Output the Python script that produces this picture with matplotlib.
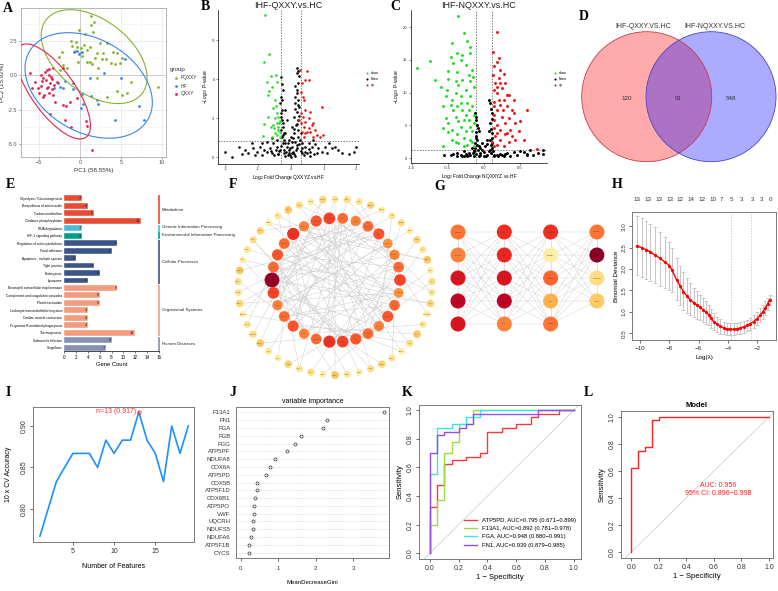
import numpy as np
import matplotlib
matplotlib.use("Agg")
import matplotlib.pyplot as plt
from matplotlib.patches import Circle, Ellipse
from matplotlib.lines import Line2D
import matplotlib.transforms as mtransforms

plt.rcParams['font.family'] = ['Liberation Sans', 'DejaVu Sans']
plt.rcParams['mathtext.fontset'] = 'custom'
plt.rcParams['mathtext.rm'] = 'Liberation Sans'
plt.rcParams['mathtext.it'] = 'Liberation Sans:italic'

# ---------------- data ----------------
# A: PCA scores
pca_fqxxy = [(1.30, 4.32), (1.67, 3.89), (1.30, 3.65), (-0.08, 3.33), (0.61, 3.04), (1.54, 3.12),
             (-1.14, 2.51), (-0.49, 2.46), (-0.98, 2.15), (-0.41, 2.08), (0.49, 2.20), (1.22, 2.08),
             (2.44, 2.32), (3.25, 2.37), (4.07, 1.67), (4.47, 1.59), (5.08, 1.23), (2.03, 1.59),
             (1.83, 1.23), (2.64, 1.16), (1.22, 0.99), (1.42, 0.82), (0.81, 0.99), (0.20, 1.40),
             (0.0, 1.59), (-2.24, 1.71), (-2.52, 1.30), (-2.03, 0.75), (-1.63, 0.51), (-2.44, 0.39),
             (2.24, 0.51), (2.11, -0.22), (3.25, -1.55), (4.47, -1.18), (5.08, -1.43), (5.69, -1.30),
             (6.22, -0.46), (9.47, -0.82), (4.27, 0.82), (4.88, 0.87), (3.78, 0.87), (3.17, 1.16),
             (0.16, 2.0), (-0.61, 1.74), (0.89, 1.84), (2.76, 1.59), (-0.28, 0.99)]
pca_hf = [(-0.73, 1.71), (-0.33, 1.76), (-0.16, 1.55), (0.20, 1.71), (5.49, 1.18), (2.97, 0.14),
          (5.04, -0.19), (-2.72, -0.58), (-2.44, -0.87), (-3.17, -0.94), (-1.79, -0.41), (-0.81, -0.58),
          (-0.81, -1.01), (0.20, -1.38), (1.30, -1.50), (2.03, -1.79), (2.20, -2.10), (0.33, -2.08),
          (0.16, -2.39), (7.24, -2.27), (7.85, -3.24), (4.23, -3.29), (1.22, -0.22), (-2.03, -0.94)]
pca_qxxy = [(-6.10, 0.19), (-4.07, 0.39), (-3.74, 0.43), (-3.25, 0.51), (-4.27, 0.22), (-4.76, 0.02),
            (-3.78, 0.02), (-3.37, -0.29), (-4.19, -0.34), (-4.67, -0.39), (-3.66, -0.58), (-3.17, -0.70),
            (-4.07, -0.94), (-3.46, -1.01), (-3.78, -1.30), (-3.25, -1.43), (-4.35, -1.47), (-3.94, -0.87),
            (-5.08, -0.89), (-5.81, -0.94), (-4.96, -1.30), (-4.47, -1.55), (-3.05, -1.91), (-2.03, -2.15),
            (-1.75, -2.27), (-1.22, -1.91), (-0.33, -1.62), (-3.66, -2.83), (-1.83, -3.29), (-1.14, -3.74),
            (0.73, -3.31), (0.89, -3.67), (1.42, -5.46), (-2.11, 0.51), (-2.85, -0.46), (-5.49, -0.46),
            (-4.80, -0.77), (-3.58, -0.14), (-4.55, -0.22)]
pca_groups = ["FQXXY", "HF", "QXXY"]
pca_colors = ["#86B22C", "#3A86E6", "#E8214E"]

# B: volcano IHF-QXXY
b_down = [(-0.80, 10.9), (-0.66, 7.92), (-0.83, 7.28), (-0.46, 6.33), (-0.60, 6.26), (-0.73, 5.82),
          (-0.43, 5.82), (-0.56, 5.38), (-0.66, 5.13), (-0.70, 4.79), (-0.48, 4.41), (-0.45, 3.95),
          (-0.53, 3.77), (-0.43, 3.38), (-0.48, 3.0), (-0.38, 3.13), (-0.32, 2.82), (-0.43, 2.62),
          (-0.53, 2.49), (-0.38, 2.36), (-0.60, 2.36), (-0.40, 2.10), (-0.32, 1.97), (-0.48, 1.90),
          (-0.56, 1.59), (-0.84, 1.64), (-0.32, 1.59), (-0.36, 2.62), (-0.83, 2.56), (-0.68, 3.08),
          (-0.50, 2.23), (-0.42, 1.72)]
b_up = [(0.28, 6.72), (0.44, 5.95), (0.54, 5.90), (0.49, 6.59), (0.34, 5.69), (0.31, 5.05), (0.36, 4.67),
        (0.39, 4.41), (0.44, 3.64), (0.59, 3.51), (0.31, 3.38), (0.36, 3.13), (0.54, 3.0), (0.69, 2.62),
        (0.44, 2.74), (0.31, 2.62), (0.39, 2.36), (0.54, 2.23), (0.74, 2.10), (0.59, 1.97), (0.44, 1.85),
        (0.79, 1.72), (0.99, 1.72), (0.89, 1.54), (0.69, 1.59), (0.34, 1.97), (0.94, 3.90), (0.39, 1.59),
        (0.49, 1.97), (0.64, 2.49), (0.25, 2.87)]
b_none = [(0.18, 6.85), (0.23, 6.59), (0.25, 6.21), (0.21, 5.69), (0.13, 5.44), (0.18, 4.92), (0.23, 4.41),
          (0.13, 4.15), (0.25, 3.90), (0.18, 3.51), (0.11, 3.13), (0.23, 2.87), (0.15, 2.49), (0.21, 2.10),
          (0.11, 1.85), (0.07, 1.46), (0.13, 1.21), (0.19, 0.95), (0.03, 0.82), (0.08, 0.44), (-0.02, 0.18),
          (-0.07, 0.56), (-0.12, 0.82), (-0.17, 1.08), (-0.22, 1.33), (-0.25, 1.72), (-0.29, 2.10),
          (-0.25, 2.62), (-0.31, 3.13), (-0.27, 3.64), (-0.32, 4.15), (-0.29, 4.67), (-0.25, 5.18),
          (-0.29, 6.15), (-0.22, 0.31), (-0.32, 0.56), (-0.43, 0.82), (-0.53, 1.08), (-0.63, 0.69),
          (-0.73, 0.44), (-0.83, 0.56), (-0.93, 0.82), (-1.04, 0.44), (-1.14, 0.69), (-1.29, 0.31),
          (-1.49, 0.26), (-1.59, 0.82), (-2.0, 0.44), (-1.80, 0.05), (-1.39, 0.56), (-1.19, 1.08),
          (-1.09, 0.18), (-0.88, 0.18), (-0.58, 0.31), (-0.38, 0.26), (-0.17, 0.10), (0.13, 0.10),
          (0.34, 0.31), (0.44, 0.44), (0.54, 0.62), (0.64, 0.82), (0.74, 1.03), (0.84, 0.69), (0.94, 0.44),
          (1.05, 0.82), (1.15, 1.08), (1.25, 0.69), (1.35, 0.82), (1.45, 0.56), (1.55, 0.31), (1.76, 0.26),
          (1.94, 0.44), (1.98, 0.82), (1.10, 0.31), (0.79, 0.31), (0.59, 0.10), (0.44, 0.82), (0.34, 1.08),
          (0.54, 1.13), (0.69, 1.33), (-0.43, 1.33), (-0.58, 1.46), (-0.73, 1.21), (-0.88, 1.08),
          (-0.17, 1.85), (-0.07, 1.33), (0.03, 2.36), (0.28, 1.33), (0.31, 1.85), (-0.12, 2.87),
          (-0.19, 3.64), (0.13, 4.67), (0.18, 6.46), (0.0, 0.05), (-0.05, 0.36), (0.05, 0.31),
          (-0.35, 0.5), (-0.3, 0.9), (-0.25, 1.1), (-0.2, 0.6), (-0.15, 0.4), (-0.1, 0.2), (0.1, 0.25),
          (0.15, 0.55), (0.2, 0.7), (0.25, 1.0), (0.3, 0.5), (0.35, 0.75), (-0.4, 0.3), (-0.45, 0.6),
          (0.4, 0.2), (0.5, 0.35), (-0.5, 0.2), (-0.6, 0.5), (0.6, 0.45), (0.7, 0.3), (-0.27, 1.6),
          (-0.24, 2.3), (-0.28, 2.9), (-0.3, 3.4), (-0.26, 4.4), (-0.27, 5.6), (0.2, 5.2), (0.22, 4.0),
          (0.24, 3.2), (0.2, 2.6), (0.22, 1.6), (-0.2, 1.9), (0.12, 3.7), (0.1, 2.2), (-0.1, 1.1),
          (0.05, 1.2), (-0.02, 0.7), (0.0, 1.6)]

# C: volcano IHF-NQXXY
c_down = [(-0.35, 21.7), (-0.27, 19.1), (-0.44, 17.5), (-0.23, 17.8), (-0.19, 17.0), (-0.75, 14.8),
          (-0.93, 13.7), (-0.67, 11.9), (-0.50, 13.3), (-0.37, 16.0), (-0.30, 15.7), (-0.19, 16.0),
          (-0.42, 14.5), (-0.32, 15.0), (-0.25, 14.2), (-0.16, 13.5), (-0.21, 12.7), (-0.30, 11.9),
          (-0.49, 12.0), (-0.39, 11.7), (-0.35, 11.2), (-0.19, 11.7), (-0.14, 10.9), (-0.25, 10.4),
          (-0.39, 9.9), (-0.53, 9.4), (-0.44, 8.9), (-0.32, 9.4), (-0.19, 9.4), (-0.23, 8.4), (-0.37, 7.9),
          (-0.46, 8.1), (-0.30, 7.4), (-0.16, 7.9), (-0.25, 6.6), (-0.39, 6.3), (-0.53, 6.1), (-0.49, 5.3),
          (-0.35, 5.6), (-0.21, 5.8), (-0.14, 5.3), (-0.32, 4.8), (-0.44, 4.3), (-0.56, 4.6), (-0.25, 4.1),
          (-0.16, 4.1), (-0.37, 3.6), (-0.28, 3.0), (-0.19, 2.8), (-0.44, 2.8), (-0.35, 2.3), (-0.23, 2.0),
          (-0.56, 1.9), (-0.14, 1.8), (-0.49, 3.9), (-0.60, 10.9), (-0.51, 10.4), (-0.15, 12.4),
          (-0.56, 7.9), (-0.14, 6.6), (-0.19, 4.8), (-0.28, 5.8), (-0.42, 7.4), (-0.37, 13.2),
          (-0.46, 15.5), (-0.31, 8.4), (-0.21, 7.4), (-0.39, 2.5), (-0.27, 1.8), (-0.16, 2.5)]
c_up = [(0.19, 19.2), (0.13, 16.2), (0.21, 15.2), (0.18, 14.7), (0.15, 14.0), (0.23, 13.5), (0.28, 12.9),
        (0.13, 12.7), (0.21, 12.2), (0.16, 11.4), (0.30, 11.4), (0.25, 10.7), (0.14, 10.4), (0.19, 9.9),
        (0.35, 9.6), (0.42, 8.9), (0.28, 8.9), (0.15, 8.6), (0.23, 8.1), (0.32, 7.9), (0.19, 7.4),
        (0.39, 7.4), (0.14, 6.6), (0.25, 6.3), (0.35, 6.1), (0.44, 5.4), (0.30, 5.3), (0.19, 5.1),
        (0.14, 4.6), (0.23, 4.3), (0.37, 4.3), (0.49, 4.1), (0.30, 3.6), (0.16, 3.3), (0.23, 2.8),
        (0.35, 2.5), (0.44, 2.8), (0.19, 2.0), (0.28, 1.8), (0.14, 1.8), (0.60, 7.4), (0.56, 2.8),
        (0.51, 5.6), (0.42, 6.9), (0.74, 1.4), (0.21, 8.9), (0.32, 9.6), (0.15, 5.8), (0.27, 7.4),
        (0.32, 3.8), (0.39, 3.3), (0.12, 2.5), (0.18, 10.8), (0.22, 11.5), (0.15, 7.9), (0.19, 3.8)]
c_none = [(0.0, 0.25), (-0.46, 0.5), (-0.37, 0.76), (-0.28, 1.0), (-0.21, 0.76), (-0.16, 1.5), (-0.12, 2.3),
          (-0.10, 3.3), (-0.08, 4.6), (-0.10, 5.8), (-0.12, 6.9), (-0.08, 1.3), (-0.05, 0.76), (0.05, 0.5),
          (0.09, 1.3), (0.12, 2.3), (0.11, 3.8), (0.09, 5.3), (0.12, 6.9), (0.09, 8.4), (0.08, 8.9),
          (-0.07, 0.36), (-0.14, 0.25), (-0.23, 0.25), (-0.32, 0.5), (-0.42, 0.66), (0.14, 0.36),
          (0.23, 0.66), (0.32, 0.76), (0.42, 0.86), (0.51, 1.0), (0.60, 0.66), (0.69, 0.5), (0.83, 1.2),
          (0.83, 0.66), (0.65, 1.3), (0.46, 0.5), (0.28, 0.25), (0.19, 0.5), (-0.02, 1.3), (0.02, 1.8),
          (0.07, 1.0), (-0.07, 1.8), (-0.14, 1.0), (-0.19, 0.5), (-0.28, 0.25), (0.05, 2.8), (-0.02, 2.3),
          (-0.09, 2.8), (0.09, 2.8), (0.07, 4.1), (-0.07, 4.1), (-0.13, 1.0), (0.13, 1.0), (-0.37, 0.36),
          (0.37, 0.36), (0.56, 0.86), (-0.05, 0.4), (0.03, 0.3), (-0.1, 0.6), (0.1, 0.7), (-0.12, 1.5),
          (0.12, 1.6), (-0.09, 2.0), (0.1, 2.0), (-0.11, 3.0), (0.11, 3.1), (-0.1, 4.0), (0.1, 4.5),
          (-0.09, 5.0), (0.11, 6.0), (-0.11, 6.2), (0.1, 7.5), (-0.2, 0.4), (0.2, 0.3), (-0.3, 0.3),
          (0.3, 0.6), (-0.05, 1.6), (0.05, 2.1), (0.0, 0.9), (-0.15, 0.7), (0.15, 0.4), (-0.25, 0.6),
          (0.25, 0.4), (-0.55, 0.4), (0.6, 0.4), (0.75, 0.7)]

# D: Venn counts
venn_sets = ["IHF-QXXY.VS.HC", "IHF-NQXXY.VS.HC"]
venn_counts = [120, 91, 548]

# E: KEGG enrichment
kegg_terms = ["Glycolysis / Gluconeogenesis", "Biosynthesis of amino acids", "Carbon metabolism",
              "Oxidative phosphorylation", "RNA degradation", "HIF-1 signaling pathway",
              "Regulation of actin cytoskeleton", "Focal adhesion", "Apoptosis - multiple species",
              "Tight junction", "Endocytosis", "Lysosome", "Neutrophil extracellular trap formation",
              "Complement and coagulation cascades", "Platelet activation",
              "Leukocyte transendothelial migration", "Cardiac muscle contraction",
              "Fc gamma R-mediated phagocytosis", "Thermogenesis", "Salmonella infection", "Shigellosis"]
kegg_counts = [3, 4, 5, 13, 3, 3, 9, 8, 2, 5, 6, 4, 9, 6, 6, 4, 4, 4, 12, 8, 7]
kegg_class = ["Metabolism"] * 4 + ["Genetic Information Processing", "Environmental Information Processing"] + \
             ["Cellular Processes"] * 6 + ["Organismal Systems"] * 7 + ["Human Diseases"] * 2
class_colors = {"Metabolism": "#E64B35", "Genetic Information Processing": "#4DBBD5",
                "Environmental Information Processing": "#00A087", "Cellular Processes": "#3C5488",
                "Organismal Systems": "#F39B7F", "Human Diseases": "#8491B4"}

# F: PPI network (inner ring = hub proteins, outer ring = others)
inner_genes = ["ATP5F1A", "ATP5F1B", "NDUFA4", "COX5A", "UQCRC1", "NDUFS3", "COX4I1", "FN1",
               "UQCRC2", "ATP5PO", "NDUFB8", "CYCS", "COX6B1", "ATP5PD", "FGA", "FGB", "FGG",
               "ATP5PF", "NDUFA8", "COX6A1", "COX5B", "ATP5F1D", "VWF", "UQCRH", "NDUFS5",
               "NDUFA6", "F13A1", "ATP5F1C", "SDHB", "CYC1"]
inner_degree = [14, 13, 11, 15, 12, 13, 12, 21, 14, 11, 12, 13, 11, 12, 15, 14, 13,
                12, 11, 13, 12, 10, 14, 12, 11, 10, 13, 12, 11, 12]
outer_genes = ["ACTB", "ACTN1", "ITGA2B", "ITGB3", "TLN1", "VCL", "FLNA", "MYH9", "PFN1", "CFL1",
               "GSN", "ARPC2", "RAC1", "CDC42", "RHOA", "TUBA1B", "HSPA8", "HSP90AA1", "GAPDH", "PKM",
               "ENO1", "ALDOA", "PGK1", "TPI1", "LDHA", "CTSD", "CTSB", "LAMP1", "CLTC", "AP2A1",
               "RAB5A", "RAB7A", "C3", "C4A", "CFB", "SERPINC1", "PLG", "KNG1", "F2", "F10",
               "THBS1", "PF4", "PPBP", "MPO", "ELANE", "LTF", "S100A8", "S100A9", "CAT", "SOD1"]
outer_degree = [3, 5, 2, 4, 6, 3, 2, 5, 4, 3, 2, 6, 4, 3, 5, 2, 3, 4, 6, 3, 2, 5, 3, 4, 2,
                6, 3, 2, 4, 5, 3, 2, 4, 6, 3, 2, 5, 3, 4, 2, 6, 3, 5, 2, 4, 3, 2, 5, 3, 4]
ppi_edges = ("0-14 0-20 1-16 1-9 2-18 2-25 3-13 3-21 4-17 4-27 5-19 5-12 6-22 6-15 7-16 7-20 7-24 "
             "7-11 7-2 7-28 8-18 8-26 9-23 10-21 10-27 11-25 12-24 13-28 14-29 15-26 16-23 17-29 18-3 "
             "19-1 20-10 21-4 22-12 23-5 24-0 25-9 26-6 27-13 28-8 29-11 0-33 0-58 1-47 2-62 3-70 4-35 "
             "5-52 6-77 7-45 7-55 7-66 8-40 9-73 10-50 11-30 12-64 13-42 14-56 15-38 16-68 17-48 18-75 "
             "19-36 20-60 21-44 22-71 23-32 24-53 25-79 26-41 27-65 28-49 29-37 3-57 6-46 9-61 12-34 "
             "15-72 18-54 21-39 24-67 27-43 2-31 5-76 8-59 11-63 14-69 17-74 20-51 23-78 30-55 33-61 "
             "36-70 40-66 44-75 48-31 52-79 58-38 62-45 67-35")

# G: hub gene layers (columns of the layered network)
hub_columns = [["ATP5PF", "NDUFA8", "COX6A", "ATP5PD", "COX5B"],
               ["F13A1", "FN1", "FGA", "FGB", "FGG"],
               ["ATP5F1D", "COX6B1", "ATP5PO", "VWF", "UQCRH"],
               ["NDUFS5", "NDUFA6", "ATP5F1B", "CYCS"]]
hub_score = [[0.55, 0.52, 0.78, 0.86, 0.78],
             [0.70, 0.72, 0.78, 0.87, 0.52],
             [0.70, 0.12, 0.58, 0.38, 0.55],
             [0.55, 0.98, 0.22, 0.30]]

# H: LASSO cross-validation
lasso_loglam = [-10.23, -9.9, -9.6, -9.31, -9.0, -8.63, -8.3, -7.99, -7.83, -7.49, -7.25, -7.03, -6.8,
                -6.57, -6.33, -6.11, -5.88, -5.66, -5.47, -5.31, -5.15, -4.97, -4.75, -4.51, -4.28,
                -4.06, -3.83, -3.6, -3.37, -3.14, -2.91, -2.69, -2.46, -2.23, -2.0, -1.77, -1.6,
                -1.43, -1.28, -1.13]
lasso_dev = [2.54, 2.50, 2.45, 2.40, 2.33, 2.25, 2.16, 2.08, 1.98, 1.74, 1.60, 1.47, 1.37, 1.28, 1.21,
             1.16, 1.10, 1.04, 0.99, 0.93, 0.85, 0.77, 0.71, 0.66, 0.62, 0.60, 0.59, 0.59, 0.60, 0.62,
             0.65, 0.68, 0.72, 0.77, 0.84, 0.93, 1.00, 1.08, 1.18, 1.28]
lasso_up = [3.24, 3.20, 3.12, 3.05, 2.97, 2.86, 2.75, 2.62, 2.50, 2.25, 2.08, 1.92, 1.78, 1.66, 1.56,
            1.48, 1.40, 1.32, 1.24, 1.16, 1.06, 0.96, 0.88, 0.82, 0.77, 0.74, 0.73, 0.73, 0.73, 0.75,
            0.78, 0.81, 0.86, 0.92, 0.99, 1.08, 1.16, 1.24, 1.33, 1.40]
lasso_lo = [1.86, 1.82, 1.77, 1.72, 1.66, 1.60, 1.55, 1.50, 1.45, 1.28, 1.15, 1.05, 0.98, 0.92, 0.87,
            0.84, 0.80, 0.76, 0.72, 0.68, 0.63, 0.58, 0.53, 0.49, 0.47, 0.46, 0.45, 0.46, 0.47, 0.49,
            0.51, 0.54, 0.58, 0.62, 0.68, 0.77, 0.84, 0.92, 1.03, 1.15]
lasso_top_pos = [-10.18, -9.43, -8.70, -7.94, -7.26, -6.50, -5.77, -5.04, -4.40, -3.78, -3.07, -2.34, -1.66, -1.09]
lasso_top_n = [13, 13, 13, 13, 12, 14, 12, 10, 7, 5, 3, 3, 3, 0]
lasso_lines = [-3.8, -2.4]

# I: SVM-RFE accuracy
n_features = list(range(1, 20))
cv_accuracy = [0.767, 0.800, 0.833, 0.850, 0.867, 0.867, 0.867, 0.850, 0.883, 0.867,
               0.883, 0.883, 0.917, 0.883, 0.867, 0.833, 0.900, 0.867, 0.900]

# J: random forest importance
rf_genes = ["F13A1", "FN1", "FGA", "FGB", "FGG", "ATP5PF", "NDUFA8", "COX6A", "ATP5PD", "COX5B",
            "ATP5F1D", "COX6B1", "ATP5PO", "VWF", "UQCRH", "NDUFS5", "NDUFA6", "ATP5F1B", "CYCS"]
rf_gini = [3.82, 2.30, 2.19, 1.62, 1.45, 1.22, 0.92, 0.77, 0.66, 0.44, 0.42, 0.37, 0.36, 0.34,
           0.33, 0.32, 0.28, 0.23, 0.22]

# K: single-gene ROC (x = 1 - specificity, y = sensitivity)
roc_genes = ["ATP5PD", "F13A1", "FGA", "FN1"]
roc_auc = ["0.795 (0.671\u22120.899)", "0.892 (0.781\u22120.978)", "0.948 (0.880\u22120.991)", "0.939 (0.879\u22120.985)"]
roc_colors = ["#F03C3C", "#9ADB46", "#3FE3EF", "#9B4BE8"]
roc_fpr = [[0, 0, 0.05, 0.05, 0.1, 0.1, 0.15, 0.15, 0.25, 0.25, 0.35, 0.35, 0.4, 0.4, 0.5, 0.5, 0.6, 0.6, 0.7, 0.7, 0.75, 0.75, 0.9, 0.9, 1],
           [0, 0, 0.05, 0.05, 0.1, 0.1, 0.15, 0.15, 0.2, 0.2, 0.3, 0.3, 1],
           [0, 0, 0.05, 0.05, 0.15, 0.15, 0.25, 0.25, 0.35, 0.35, 1],
           [0, 0, 0.05, 0.05, 0.1, 0.1, 0.2, 0.2, 0.25, 0.25, 0.3, 0.3, 0.75, 0.75, 1]]
roc_tpr = [[0, 0.325, 0.325, 0.475, 0.475, 0.625, 0.625, 0.65, 0.65, 0.675, 0.675, 0.7, 0.7, 0.85, 0.85, 0.875, 0.875, 0.9, 0.9, 0.95, 0.95, 0.975, 0.975, 1, 1],
           [0, 0.2, 0.2, 0.375, 0.375, 0.7, 0.7, 0.775, 0.775, 0.9, 0.9, 1, 1],
           [0, 0.55, 0.55, 0.875, 0.875, 0.9, 0.9, 0.95, 0.95, 1, 1],
           [0, 0.7, 0.7, 0.825, 0.825, 0.85, 0.85, 0.875, 0.875, 0.9, 0.9, 0.975, 0.975, 1, 1]]

# L: combined model ROC
model_fpr = [0, 0, 0.05, 0.05, 0.1, 0.1, 0.15, 0.15, 0.2, 0.2, 1]
model_tpr = [0, 0.625, 0.625, 0.75, 0.75, 0.775, 0.775, 0.975, 0.975, 1, 1]
model_auc = "AUC: 0.956"
model_ci = "95% CI: 0.896\u22120.998"

# ---------------- figure ----------------
W, H = 778, 591
fig = plt.figure(figsize=(W / 100, H / 100), dpi=100)


def px_axes(l, t, r, b):
    return fig.add_axes([l / W, 1 - b / H, (r - l) / W, (b - t) / H])


def r_style(ax, fs=4.5):
    for s in ax.spines.values():
        s.set_color("#666666")
        s.set_linewidth(0.6)
    ax.tick_params(direction="out", length=2.5, width=0.5, labelsize=fs, colors="#333333", pad=1.5)
    for lab in ax.get_yticklabels():
        lab.set_rotation(90)
        lab.set_va("center")


# ---- A ----
ax = px_axes(21, 8, 166, 157)
ax.set_xlim(-7.2, 10.5)
ax.set_ylim(-5.95, 4.9)
ax.set_xticks([-5, 0, 5, 10])
ax.set_yticks([-5.0, -2.5, 0.0, 2.5])
ax.set_yticklabels(["-5.0", "-2.5", "0.0", "2.5"])
ax.set_xticks([-2.5, 2.5, 7.5], minor=True)
ax.set_yticks([-3.75, -1.25, 1.25, 3.75], minor=True)
ax.grid(True, which="major", color="#E6E6E6", lw=0.5)
ax.grid(True, which="minor", color="#F2F2F2", lw=0.4)
ax.axhline(0, color="#C8C8C8", lw=0.6)
ax.axvline(0, color="#C8C8C8", lw=0.6)
ax.set_axisbelow(True)
for s in ax.spines.values():
    s.set_color("#AAAAAA")
    s.set_linewidth(0.6)
ax.tick_params(labelsize=4, length=1.5, width=0.4, colors="#555555", pad=1)
ax.tick_params(which="minor", length=0)
for pts, col in zip([pca_fqxxy, pca_hf, pca_qxxy], pca_colors):
    arr = np.array(pts)
    ax.scatter(arr[:, 0], arr[:, 1], s=4, color=col, lw=0, zorder=3)
    mu = arr.mean(axis=0)
    cov = np.cov(arr.T)
    vals, vecs = np.linalg.eigh(cov)
    rad = np.sqrt(2 * 3.24)
    ang = np.degrees(np.arctan2(vecs[1, 1], vecs[0, 1]))
    ax.add_patch(Ellipse(mu, 2 * rad * np.sqrt(vals[1]), 2 * rad * np.sqrt(vals[0]), angle=ang,
                         fill=False, edgecolor=col, lw=0.8, zorder=4))
ax.set_xlabel("PC1 (58.55%)", fontsize=4.5, labelpad=2, color="#333333")
ax.set_ylabel("PC2 (15.92%)", fontsize=4.5, labelpad=2, color="#333333")
fig.text(170 / W, 1 - 69 / H, "group", fontsize=4.5, va="center", color="#333333")
for i, (g, col) in enumerate(zip(pca_groups, pca_colors)):
    yy = 1 - (78 + 8 * i) / H
    fig.lines.append(Line2D([176 / W], [yy], marker="o", ms=2, color=col, mew=0, transform=fig.transFigure))
    fig.text(181 / W, yy, g, fontsize=3.5, va="center", color="#333333")


# ---- B, C volcano ----
def volcano(box, title, xlab, down, none, up, xlim, ylim, xt, xtl, yt, vl, leg_xy, ms):
    ax = px_axes(*box)
    for pts, col in [(none, "black"), (down, "#22DD22"), (up, "#EE1111")]:
        arr = np.array(pts)
        ax.scatter(arr[:, 0], arr[:, 1], s=ms, color=col, lw=0, zorder=3)
    ax.set_xlim(*xlim)
    ax.set_ylim(*ylim)
    for v in vl:
        ax.axvline(v, color="#444444", lw=0.5, ls=(0, (2, 2)))
    ax.axhline(1.3, color="#444444", lw=0.5, ls=(0, (2, 2)))
    ax.set_xticks(xt)
    ax.set_xticklabels(xtl)
    ax.set_yticks(yt)
    ax.spines["top"].set_visible(False)
    ax.spines["right"].set_visible(False)
    for s in ["left", "bottom"]:
        ax.spines[s].set_linewidth(0.5)
    ax.tick_params(labelsize=3, length=1.5, width=0.4, pad=1, colors="#333333")
    ax.set_title(title, fontsize=6.5, pad=1, color="#222222")
    ax.set_xlabel(xlab, fontsize=3.5, labelpad=0.8)
    ax.set_ylabel(r"$-Log_{10}$ P-value", fontsize=3.5, labelpad=1.5)
    hs = [Line2D([], [], ls="", marker="o", ms=1.5, mew=0, color=c) for c in ["#22DD22", "black", "#EE1111"]]
    ax.legend(hs, ["down", "None", "up"], loc="center left", bbox_to_anchor=leg_xy, fontsize=2.5,
              frameon=False, handletextpad=0.2, labelspacing=0.6, borderaxespad=0)


volcano((218, 10, 359, 164), "IHF-QXXY.vs.HC", r"Log$_2$ Fold Change QXXYZ.vs.HF", b_down, b_none, b_up,
        (-2.22, 2.08), (-0.5, 11.3), [-2, -1, 0, 1, 2], ["-2", "-1", "0", "1", "2"], [0, 3, 6, 9],
        [-0.3, 0.3], (1.02, 0.55), 3.5)
volcano((411, 10, 547, 163), "IHF-NQXXY.vs.HC", r"Log$_2$ Fold Change NQXXYZ.vs.HF", c_down, c_none, c_up,
        (-1.01, 0.88), (-0.76, 22.6), [-1.0, -0.5, 0.0, 0.5], ["-1.0", "-0.5", "0.0", "0.5"],
        [0, 5, 10, 15, 20], [-0.11, 0.11], (1.02, 0.55), 4.5)

# ---- D Venn ----
ax = px_axes(578, 18, 778, 170)
ax.set_xlim(578, 778)
ax.set_ylim(170, 18)
ax.axis("off")
ax.add_patch(Circle((646.7, 96.7), 65, facecolor="#FF0000", alpha=0.33, lw=0))
ax.add_patch(Circle((711.0, 96.7), 65, facecolor="#0000FF", alpha=0.33, lw=0))
ax.add_patch(Circle((646.7, 96.7), 65, fill=False, edgecolor="#C83A4A", lw=0.6))
ax.add_patch(Circle((711.0, 96.7), 65, fill=False, edgecolor="#4444CC", lw=0.6))
ax.text(643, 27, venn_sets[0], fontsize=5, ha="center", va="center", color="#333333")
ax.text(715, 27, venn_sets[1], fontsize=5, ha="center", va="center", color="#333333")
for xx, c in zip([627, 678.5, 731], venn_counts):
    ax.text(xx, 98, str(c), fontsize=4.5, ha="center", va="center", color="#333333")

# ---- E KEGG bars ----
ax = px_axes(64, 194.6, 159, 351.4)
ny = len(kegg_terms)
yy = np.arange(ny)
bc = [class_colors[c] for c in kegg_class]
ax.barh(yy, kegg_counts, height=0.78, color=bc, edgecolor="white", lw=0.3)
for y, v in zip(yy, kegg_counts):
    ax.text(v - 0.15, y, str(v), fontsize=2.8, ha="right", va="center", color="#222222")
ax.set_ylim(ny - 0.5, -0.5)
ax.set_xlim(0, 16)
ax.set_xticks(range(0, 17, 2))
ax.set_yticks(yy)
ax.set_yticklabels(kegg_terms, fontsize=2.35)
for s in ["top", "right", "left"]:
    ax.spines[s].set_visible(False)
ax.spines["bottom"].set_linewidth(0.5)
ax.tick_params(axis="y", length=0, pad=1.2)
ax.tick_params(axis="x", labelsize=3.3, length=1.5, width=0.4, pad=1)
ax.set_xlabel("Gene Count", fontsize=4.2, labelpad=1.5)
label_y = {"Metabolism": 1.5, "Genetic Information Processing": 3.85,
           "Environmental Information Processing": 4.95}
for cls, col in class_colors.items():
    idx = [i for i, c in enumerate(kegg_class) if c == cls]
    ax.plot([16, 16], [idx[0] - 0.45, idx[-1] + 0.45], color=col, lw=1.2, clip_on=False,
            solid_capstyle="butt")
    ty = label_y.get(cls, (idx[0] + idx[-1]) / 2)
    ax.text(16.5, ty, cls, fontsize=3.2, va="center", ha="left", clip_on=False, color="#222222")

# ---- F PPI network ----
ax = px_axes(226, 190, 440, 386)
ax.set_xlim(226, 440)
ax.set_ylim(386, 190)
ax.axis("off")
cmap = plt.get_cmap("YlOrRd")
n_in, n_out = len(inner_genes), len(outer_genes)
pos = []
for k in range(n_in):
    a = np.radians(96 + k * 360 / n_in)
    pos.append((336 + 64 * np.cos(a), 280 - 62 * np.sin(a)))
for k in range(n_out):
    a = np.radians(90 + k * 360 / n_out)
    pos.append((335 + 97 * np.cos(a), 287 - 88 * np.sin(a)))
for e in ppi_edges.split():
    i, j = map(int, e.split("-"))
    ax.plot([pos[i][0], pos[j][0]], [pos[i][1], pos[j][1]], color="#C8C8C8", lw=0.3, zorder=1)
genes = inner_genes + outer_genes
degs = inner_degree + outer_degree
for k, (g, d) in enumerate(zip(genes, degs)):
    r = (2.6 + 0.23 * d) if k < n_in else (3.0 + 0.15 * d)
    ax.add_patch(Circle(pos[k], r, facecolor=cmap(min(d / 22, 1.0) * 0.95 + 0.05), edgecolor="none", zorder=2))
    ax.text(pos[k][0], pos[k][1], g, fontsize=1.2, ha="center", va="center", color="#444444", zorder=3)

# ---- G hub layers ----
ax = px_axes(440, 215, 618, 340)
ax.set_xlim(440, 618)
ax.set_ylim(340, 215)
ax.axis("off")
gpos = []
for ci, col in enumerate(hub_columns):
    gpos.append([(458 + 46.3 * ci, 232 + 23 * ri) for ri in range(len(col))])
for ci in range(len(hub_columns)):
    pts = gpos[ci]
    for a in range(len(pts) - 1):
        ax.plot([pts[a][0], pts[a + 1][0]], [pts[a][1], pts[a + 1][1]], color="#C8C8C8", lw=0.4, zorder=1)
    if ci + 1 < len(hub_columns):
        for p in pts:
            for q in gpos[ci + 1]:
                ax.plot([p[0], q[0]], [p[1], q[1]], color="#CFCFCF", lw=0.3, zorder=1)
for ci, col in enumerate(hub_columns):
    for ri, g in enumerate(col):
        x0, y0 = gpos[ci][ri]
        ax.add_patch(Circle((x0, y0), 7.5, facecolor=cmap(hub_score[ci][ri]), edgecolor="none", zorder=2))
        ax.text(x0, y0, g, fontsize=1.3, ha="center", va="center", color="#333333", zorder=3)

# ---- H LASSO ----
ax = px_axes(632, 212, 776, 340)
lo = np.array(lasso_dev) - np.array(lasso_lo)
hi = np.array(lasso_up) - np.array(lasso_dev)
ax.errorbar(lasso_loglam, lasso_dev, yerr=[lo, hi], fmt="none", ecolor="#BBBBBB", elinewidth=0.6,
            capsize=1.2, capthick=0.5, zorder=1)
ax.plot(lasso_loglam, lasso_dev, color="#FF0000", lw=1.0, marker="o", ms=1.3, zorder=3)
for v in lasso_lines:
    ax.axvline(v, color="#BBBBBB", lw=0.5, ls=(0, (2, 2)))
ax.set_xlim(-10.55, -0.7)
ax.set_ylim(0.34, 3.33)
ax.set_xticks([-10, -8, -6, -4, -2])
ax.set_yticks([0.5, 1.0, 1.5, 2.0, 2.5, 3.0])
ax.set_yticklabels(["0.5", "1.0", "1.5", "2.0", "2.5", "3.0"])
ax.set_xticklabels(["\u221210", "\u22128", "\u22126", "\u22124", "\u22122"])
r_style(ax, 4.5)
trans = mtransforms.blended_transform_factory(ax.transData, ax.transAxes)
for p, n in zip(lasso_top_pos, lasso_top_n):
    ax.text(p, 1.1, str(n), transform=trans, fontsize=4.5, ha="center", va="center", color="#333333")
ax.set_ylabel("Binomial Deviance", fontsize=4.5, labelpad=2)
ax.set_xlabel("Log(\u03bb)", fontsize=4.5, labelpad=3)

# ---- I SVM-RFE ----
ax = px_axes(33, 407, 194, 542)
ax.plot(n_features, cv_accuracy, color="#1E90FF", lw=1.2)
best = int(np.argmax(cv_accuracy))
ax.plot(n_features[best], cv_accuracy[best], "o", mfc="none", mec="#FF3030", ms=2.5, mew=0.6)
ax.text(n_features[best] - 0.35, cv_accuracy[best], "n=%d (%.3f)" % (n_features[best], cv_accuracy[best]),
        color="#FF3030", fontsize=5, ha="right", va="center")
ax.set_xlim(0.16, 19.7)
ax.set_ylim(0.760, 0.923)
ax.set_xticks([5, 10, 15])
ax.set_yticks([0.80, 0.85, 0.90])
ax.set_yticklabels(["0.80", "0.85", "0.90"])
r_style(ax, 5)
ax.set_xlabel("Number of Features", fontsize=5, labelpad=6)
ax.set_ylabel("10 x CV Accuracy", fontsize=5, labelpad=6)

# ---- J RF importance ----
ax = px_axes(236, 407, 389, 558)
ry = np.arange(len(rf_genes))
ax.hlines(ry, -0.13, 3.96, colors="#BBBBBB", linestyles=(0, (1, 1.5)), lw=0.4)
ax.plot(rf_gini, ry, "o", mfc="none", mec="#333333", ms=2.2, mew=0.5)
ax.set_ylim(len(rf_genes) - 0.3, -0.7)
ax.set_xlim(-0.13, 3.96)
ax.set_yticks(ry)
ax.set_yticklabels(rf_genes)
ax.set_xticks([0, 1, 2, 3])
for s in ax.spines.values():
    s.set_color("#666666")
    s.set_linewidth(0.6)
ax.tick_params(axis="y", length=0, labelsize=4.3, pad=4, colors="#333333")
ax.tick_params(axis="x", direction="out", length=2.5, width=0.5, labelsize=4.3, colors="#333333")
ax.set_title("variable importance", fontsize=5, pad=3)
ax.set_xlabel("MeanDecreaseGini", fontsize=4.3, labelpad=6)

# ---- K single gene ROC ----
ax = px_axes(419, 405, 581, 559)
ax.plot([-0.2, 1.2], [-0.2, 1.2], color="#C8C8C8", lw=0.5)
hs = []
for g, auc, col, fx, ty in zip(roc_genes, roc_auc, roc_colors, roc_fpr, roc_tpr):
    ax.plot(fx, ty, color=col, lw=1.0)
    hs.append(Line2D([], [], color=col, lw=1.0))
ax.set_xlim(-0.076, 1.05)
ax.set_ylim(-0.04, 1.035)
ax.set_xticks([0, 0.2, 0.4, 0.6, 0.8, 1.0])
ax.set_yticks([0, 0.2, 0.4, 0.6, 0.8, 1.0])
ax.set_xticklabels(["0.0", "0.2", "0.4", "0.6", "0.8", "1.0"])
ax.set_yticklabels(["0.0", "0.2", "0.4", "0.6", "0.8", "1.0"])
r_style(ax, 5)
ax.legend(hs, ["%s, AUC=%s" % (g, a) for g, a in zip(roc_genes, roc_auc)], loc="lower right",
          bbox_to_anchor=(1.0, 0.04), fontsize=4.2, frameon=False, handlelength=2.2, labelspacing=0.55)
ax.set_xlabel("1 \u2212 Specificity", fontsize=5.5, labelpad=2)
ax.set_ylabel("Sensitivity", fontsize=5.5, labelpad=2)

# ---- L model ROC ----
ax = px_axes(621, 411, 773, 558)
ax.plot([-0.2, 1.2], [-0.2, 1.2], color="#C8C8C8", lw=0.5)
ax.plot(model_fpr, model_tpr, color="#FF2020", lw=1.0)
ax.text(0.63, 0.49, model_auc, color="#FF2020", fontsize=5, ha="center", va="center")
ax.text(0.63, 0.43, model_ci, color="#FF2020", fontsize=5, ha="center", va="center")
ax.set_xlim(-0.075, 1.03)
ax.set_ylim(-0.045, 1.045)
ax.set_xticks([0, 0.2, 0.4, 0.6, 0.8, 1.0])
ax.set_yticks([0, 0.2, 0.4, 0.6, 0.8, 1.0])
ax.set_xticklabels(["0.0", "0.2", "0.4", "0.6", "0.8", "1.0"])
ax.set_yticklabels(["0.0", "0.2", "0.4", "0.6", "0.8", "1.0"])
r_style(ax, 5)
ax.set_title("Model", fontsize=5.5, fontweight="bold", pad=3)
ax.set_xlabel("1 \u2212 Specificity", fontsize=5.5, labelpad=2)
ax.set_ylabel("Sensitivity", fontsize=5.5, labelpad=2)

# ---- panel letters ----
letters = [("A", 8, 8), ("B", 205, 7), ("C", 395, 7), ("D", 584, 16), ("E", 10, 185), ("F", 233, 185),
           ("G", 440, 186), ("H", 617, 185), ("I", 8, 393), ("J", 233, 393), ("K", 407, 392), ("L", 588, 392)]
for t, x, y in letters:
    fig.text(x / W, 1 - y / H, t, fontsize=10, fontweight="bold", family="Liberation Serif",
             ha="center", va="center")

fig.savefig("out.png", dpi=100)
